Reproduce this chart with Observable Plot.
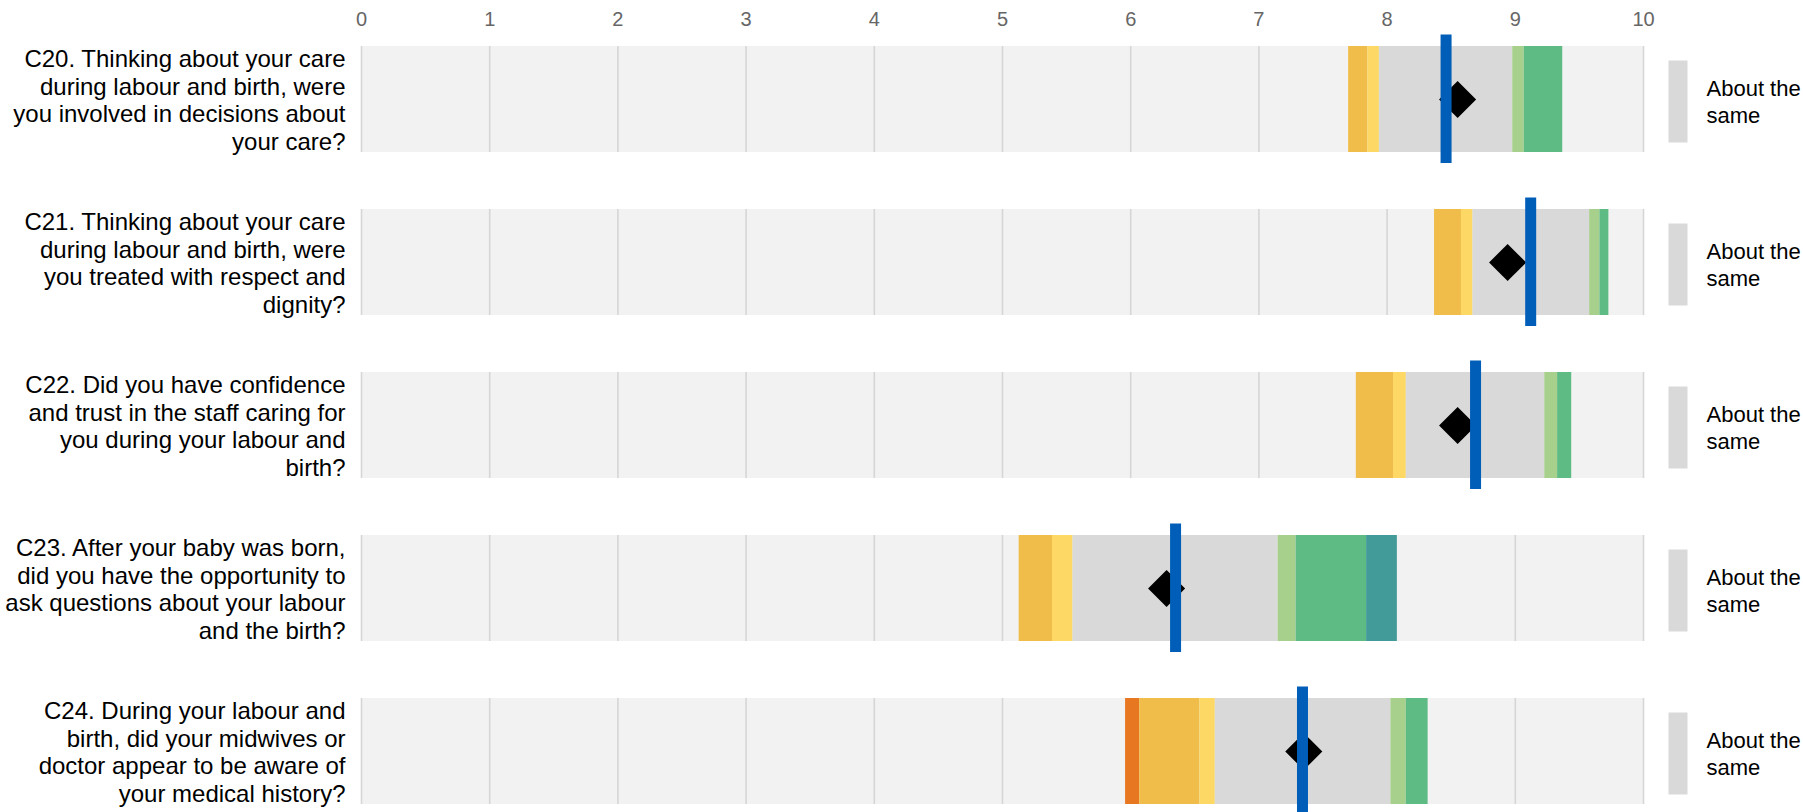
<!DOCTYPE html>
<html>
<head>
<meta charset="utf-8">
<script src="https://cdn.jsdelivr.net/npm/d3@7"></script>
<script src="https://cdn.jsdelivr.net/npm/@observablehq/plot@0.6"></script>
<style>
  html, body { margin: 0; padding: 0; background: #ffffff; }
  #chart svg { display: block; }
</style>
</head>
<body>
<div id="chart"></div>
<script>
// ---------- data ----------
const questions = ["C20", "C21", "C22", "C23", "C24"];
const questionLabels = [
  "C20. Thinking about your care\nduring labour and birth, were\nyou involved in decisions about\nyour care?",
  "C21. Thinking about your care\nduring labour and birth, were\nyou treated with respect and\ndignity?",
  "C22. Did you have confidence\nand trust in the staff caring for\nyou during your labour and\nbirth?",
  "C23. After your baby was born,\ndid you have the opportunity to\nask questions about your labour\nand the birth?",
  "C24. During your labour and\nbirth, did your midwives or\ndoctor appear to be aware of\nyour medical history?"
];
const categories = ["Much worse", "Worse", "Somewhat worse", "About the same", "Somewhat better", "Better", "Much better"];
const categoryColors = ["#E87722", "#F0BD4A", "#FDD865", "#D9D9D9", "#A8D08D", "#5FBB84", "#429A99"];
// band edges per question (start of each category, then end); equal neighbours = no band
const edgesC20 = [7.70, 7.70, 7.85, 7.94, 8.98, 9.07, 9.37, 9.37];
const edgesC21 = [8.37, 8.37, 8.58, 8.67, 9.58, 9.66, 9.73, 9.73];
const edgesC22 = [7.76, 7.76, 8.05, 8.15, 9.23, 9.33, 9.44, 9.44];
const edgesC23 = [5.13, 5.13, 5.39, 5.55, 7.15, 7.29, 7.84, 8.08];
const edgesC24 = [5.96, 6.07, 6.54, 6.66, 8.03, 8.15, 8.32, 8.32];
const scores = [8.55, 8.94, 8.55, 6.28, 7.35];
const benchmarks = [8.46, 9.12, 8.69, 6.35, 7.34];
const ratings = ["About the same", "About the same", "About the same", "About the same", "About the same"];
const xDomain = [0, 10];
const xTicks = [0, 1, 2, 3, 4, 5, 6, 7, 8, 9, 10];

// ---------- derived tables ----------
const edges = [edgesC20, edgesC21, edgesC22, edgesC23, edgesC24];
const segments = questions.flatMap((q, i) =>
  categories.map((c, j) => ({q, cat: c, x1: edges[i][j], x2: edges[i][j + 1]}))
).filter(d => d.x2 > d.x1);
const rows = questions.map((q, i) => ({
  q, label: questionLabels[i], score: scores[i], bench: benchmarks[i], rating: ratings[i],
  x1: xDomain[0], x2: xDomain[1]
}));
const grid = d3.cross(xTicks, questions).map(([t, q]) => ({t, q}));

const legendRect = {
  draw(context) { context.rect(-9.5, -41, 19, 82); }
};

const chart = Plot.plot({
  width: 1803,
  height: 812,
  marginLeft: 361,
  marginRight: 160,
  marginTop: 46,
  marginBottom: 8,
  style: {fontFamily: "'Liberation Sans', Arial, Helvetica, sans-serif", fontSize: "22px", color: "#000", background: "#fff"},
  x: {domain: xDomain},
  y: {domain: questions, type: "band", paddingInner: 0.35, paddingOuter: 0, axis: null},
  color: {domain: categories, range: categoryColors},
  marks: [
    Plot.barX(rows, {y: "q", x1: "x1", x2: "x2", fill: "#F2F2F2"}),
    Plot.tickX(grid, {x: "t", y: "q", stroke: "#D6D6D6", strokeWidth: 1.6}),
    Plot.barX(segments, {y: "q", x1: "x1", x2: "x2", fill: "cat"}),
    Plot.dot(rows, {x: "score", y: "q", symbol: "diamond2", r: 16.7, fill: "#000", stroke: null}),
    Plot.tickX(rows, {x: "bench", y: "q", stroke: "#005EB8", strokeWidth: 11, insetTop: -11.5, insetBottom: -11}),
    Plot.axisX(xTicks, {anchor: "top", tickSize: 0, tickPadding: 21, tickFormat: "d", fontSize: 20, fill: "#666666", label: null}),
    Plot.text(rows, {y: "q", text: "label", frameAnchor: "left", textAnchor: "end", dx: -16, fontSize: 24, lineHeight: 1.15, fill: "#000"}),
    Plot.dot(rows, {y: "q", frameAnchor: "right", dx: 34.5, dy: 2, symbol: legendRect, fill: "#D9D9D9", stroke: null}),
    Plot.text(rows, {y: "q", text: "rating", frameAnchor: "right", textAnchor: "start", dx: 63, dy: 1, lineWidth: 5, fontSize: 22, lineHeight: 1.22, fill: "#000"})
  ]
});
document.getElementById("chart").appendChild(chart);
</script>
</body>
</html>
